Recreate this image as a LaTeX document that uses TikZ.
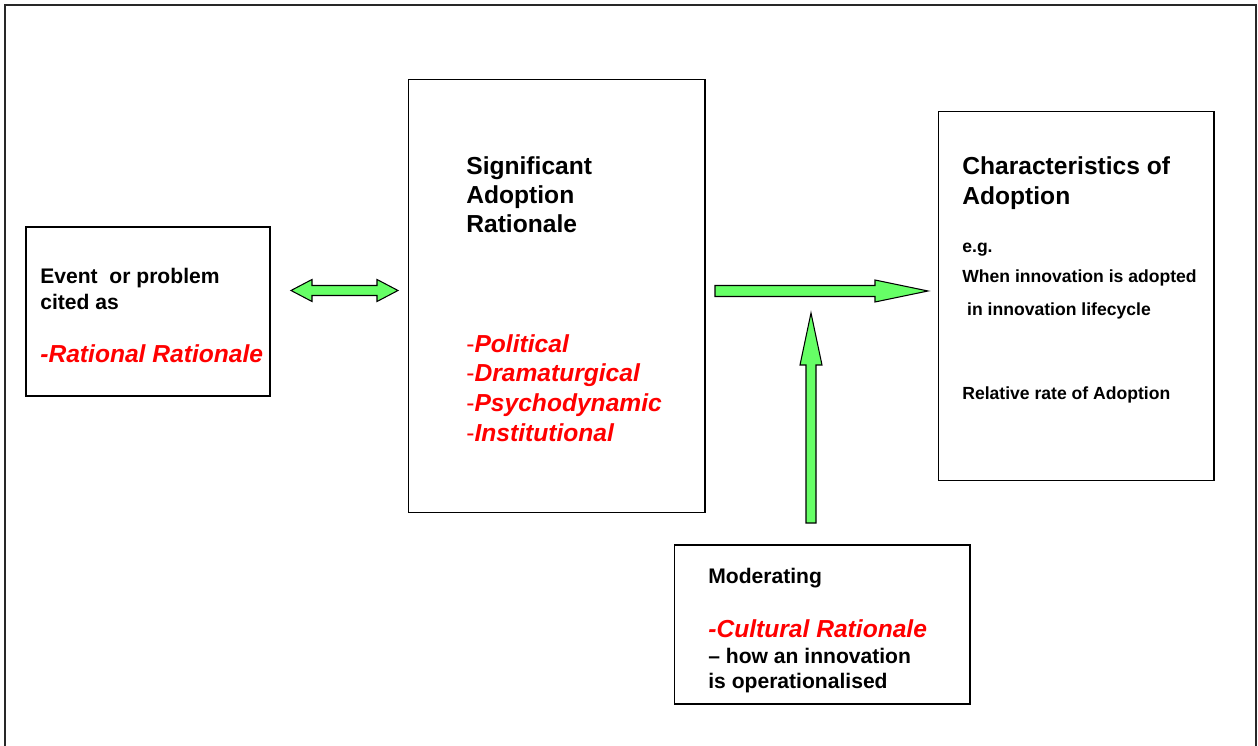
\documentclass[tikz,border=0pt]{standalone}
\usepackage{fontspec}
\setmainfont{Liberation Sans}
\usetikzlibrary{calc,positioning}
\definecolor{ink}{RGB}{0,0,0}
\definecolor{frame}{RGB}{40,40,40}
\definecolor{arrowgreen}{RGB}{102,255,102}
\definecolor{rationalred}{RGB}{255,0,0}

\begin{document}
\begin{tikzpicture}[
  x=0.02cm,y=-0.02cm,
  box/.style={draw=ink, fill=white, line width=0.6pt, inner sep=0pt},
  blockarrow/.style={draw=ink, fill=arrowgreen, line width=0.6pt,
                     line join=miter},
  heading/.style={anchor=base west, inner sep=0pt, text=ink,
                  font=\fontsize{14}{17}\selectfont\bfseries},
  body/.style={anchor=base west, inner sep=0pt, text=ink,
               font=\fontsize{12}{14}\selectfont\bfseries},
  small/.style={anchor=base west, inner sep=0pt, text=ink,
                font=\fontsize{10}{12}\selectfont\bfseries},
  rationale/.style={anchor=base west, inner sep=0pt, text=rationalred,
                    font=\fontsize{14}{17}\selectfont\bfseries\itshape}
]
\useasboundingbox (0,0) rectangle (1258,746);

% Page frame, open at the bottom edge.
\draw[frame, line width=0.9pt] (5,746) -- (5,5) -- (1256,5) -- (1256,746);

% Boxes.
\node[box, minimum width=4.88cm, minimum height=3.38cm] (event) at (148,311.5) {};
\node[box, minimum width=5.94cm, minimum height=8.68cm] (adoption) at (556.5,296) {};
\node[box, minimum width=5.52cm, minimum height=7.40cm] (traits) at (1076,296) {};
\node[box, minimum width=5.92cm, minimum height=3.18cm] (moderating) at (822,624.5) {};

% Event box.
\node[body] (ev1) at (40,284) {Event\ \ or problem};
\node[body] (ev2) at (40,309.5) {cited as};
\node[rationale] (ev3) at (40,363) {-Rational Rationale};

% Adoption rationale box.
\node[heading] (ad1) at (466,175) {Significant};
\node[heading] (ad2) at (466,204) {Adoption};
\node[heading] (ad3) at (466,233) {Rationale};
\node[rationale] (ad4) at (466,352.5) {\upshape\mdseries-\bfseries\itshape Political};
\node[rationale] (ad5) at (466,382) {\upshape\mdseries-\bfseries\itshape Dramaturgical};
\node[rationale] (ad6) at (466,411.5) {\upshape\mdseries-\bfseries\itshape Psychodynamic};
\node[rationale] (ad7) at (466,441) {\upshape\mdseries-\bfseries\itshape Institutional};

% Characteristics box.
\node[heading] (ch1) at (962,175) {Characteristics of};
\node[heading] (ch2) at (962,205) {Adoption};
\node[small] (ch3) at (962,253) {e.g.};
\node[small] (ch4) at (962,283) {When innovation is adopted};
\node[small] (ch5) at (962,316) {\ in innovation lifecycle};
\node[small] (ch6) at (962,400) {Relative rate of Adoption};

% Moderating box.
\node[body] (md1) at (708,583.5) {Moderating};
\node[rationale] (md2) at (708,637) {-Cultural Rationale};
\node[body] (md3) at (708,663) {– how an innovation};
\node[body] (md4) at (708,688) {is operationalised};

% Block arrows.
\coordinate (dbl-l) at (291,290.5);
\coordinate (dbl-r) at (398,290.5);
\draw[blockarrow] (dbl-l) -- ($(dbl-l)+(21,-11)$) -- ($(dbl-l)+(21,-5)$)
  -- ($(dbl-r)+(-21,-5)$) -- ($(dbl-r)+(-21,-11)$) -- (dbl-r)
  -- ($(dbl-r)+(-21,11)$) -- ($(dbl-r)+(-21,5)$)
  -- ($(dbl-l)+(21,5)$) -- ($(dbl-l)+(21,11)$) -- cycle;

\coordinate (fwd-tail) at (715,291);
\coordinate (fwd-tip) at (928,291);
\draw[blockarrow] ($(fwd-tail)+(0,-5.5)$) -- ($(fwd-tip)+(-53,-5.5)$)
  -- ($(fwd-tip)+(-53,-11)$) -- (fwd-tip) -- ($(fwd-tip)+(-53,11)$)
  -- ($(fwd-tip)+(-53,5.5)$) -- ($(fwd-tail)+(0,5.5)$) -- cycle;

\coordinate (up-tail) at (811,523);
\coordinate (up-tip) at (811,313);
\draw[blockarrow] ($(up-tail)+(-5,0)$) -- ($(up-tip)+(-5,52)$)
  -- ($(up-tip)+(-11,52)$) -- (up-tip) -- ($(up-tip)+(11,52)$)
  -- ($(up-tip)+(5,52)$) -- ($(up-tail)+(5,0)$) -- cycle;

\end{tikzpicture}
\end{document}
